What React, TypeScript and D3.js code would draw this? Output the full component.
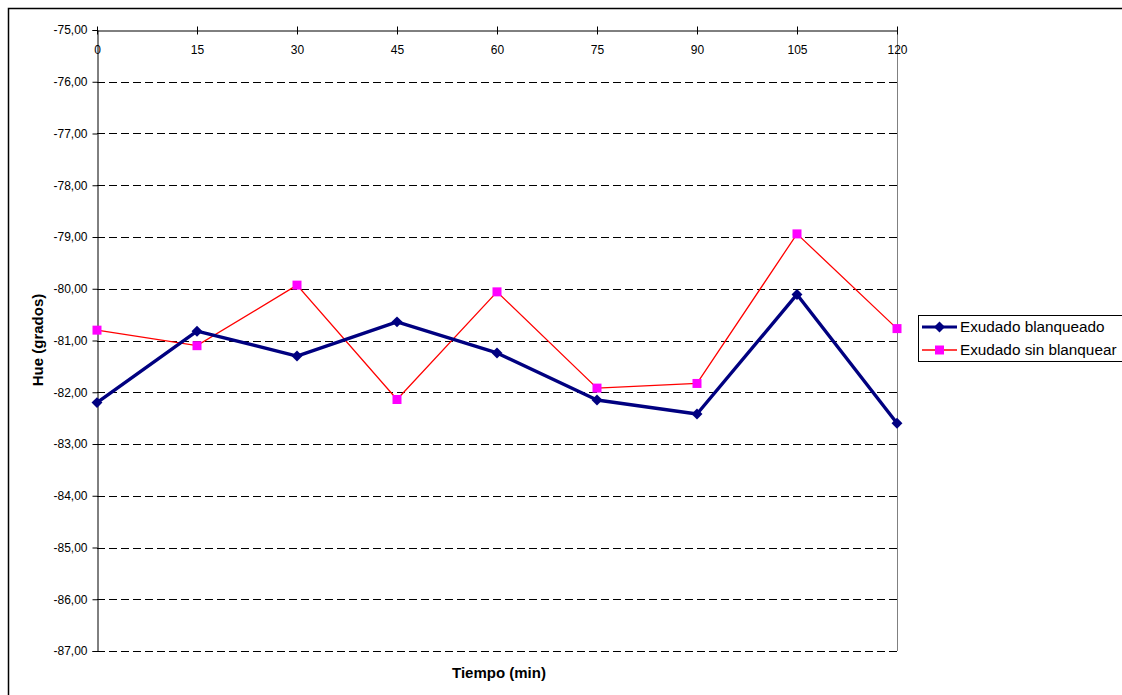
import { useRef, useEffect } from 'react'
import * as d3 from 'd3'

// data
const tiempos = [0, 15, 30, 45, 60, 75, 90, 105, 120]
const blanqueado = [-82.2, -80.82, -81.3, -80.64, -81.24, -82.15, -82.42, -80.11, -82.6]
const sinBlanquear = [-80.8, -81.1, -79.93, -82.14, -80.06, -81.92, -81.83, -78.94, -80.77]
const yTicks = [-75, -76, -77, -78, -79, -80, -81, -82, -83, -84, -85, -86, -87]
const seriesNames = ['Exudado blanqueado', 'Exudado sin blanquear']

export default function App() {
    const ref = useRef<SVGSVGElement>(null)

    useEffect(() => {
        const svg = d3.select(ref.current)
        svg.selectAll('*').remove()

        const W = 1122, H = 695
        const left = 97, right = 897, top = 30, bottom = 651
        const font = 'Arial, "Liberation Sans", sans-serif'

        const x = d3.scaleLinear().domain([0, 120]).range([left, right])
        const y = d3.scaleLinear().domain([-75, -87]).range([top, bottom])

        // outer frame
        svg.append('rect')
            .attr('x', 8.5).attr('y', 8.5)
            .attr('width', W).attr('height', H)
            .attr('fill', 'white')
            .attr('stroke', '#000').attr('stroke-width', 1.5)

        // gridlines (dashed)
        svg.append('g').selectAll('line')
            .data(yTicks.filter(d => d !== -75))
            .enter().append('line')
            .attr('x1', left).attr('x2', right)
            .attr('y1', d => Math.round(y(d)) + 0.5).attr('y2', d => Math.round(y(d)) + 0.5)
            .attr('stroke', '#000').attr('stroke-width', 1)
            .attr('stroke-dasharray', '8,4')

        // right border of plot area
        svg.append('line')
            .attr('x1', right + 0.5).attr('x2', right + 0.5)
            .attr('y1', top).attr('y2', bottom)
            .attr('stroke', '#808080').attr('stroke-width', 1)

        // y axis
        const yAxis = d3.axisLeft(y)
            .tickValues(yTicks)
            .tickSize(5)
            .tickFormat(d => d3.format('.2f')(d as number).replace('.', ',').replace('−', '-'))
        const gy = svg.append('g')
            .attr('transform', `translate(${left + 0.5},0)`)
            .call(yAxis)
        gy.select('.domain').attr('stroke', '#000')
        gy.selectAll('.tick line').attr('stroke', '#000')
        gy.selectAll('.tick text')
            .attr('font-family', font).attr('font-size', 12).attr('fill', '#000')
            .attr('x', -10)

        // x axis along the top (crosses at -75)
        const xAxis = d3.axisBottom(x).tickValues(tiempos).tickSize(0).tickFormat(d => String(d))
        const gx = svg.append('g')
            .attr('transform', `translate(0,${top + 0.5})`)
            .call(xAxis)
        gx.select('.domain').attr('stroke', '#000')
        gx.selectAll('.tick text')
            .attr('font-family', font).attr('font-size', 12).attr('fill', '#000')
            .attr('dy', 0).attr('y', 23)
        gx.selectAll('.tick').append('line')
            .attr('y1', -4).attr('y2', 4).attr('stroke', '#000')

        // series
        const line = d3.line<number>()
            .x((_, i) => x(tiempos[i]))
            .y(d => y(d))

        svg.append('path')
            .datum(sinBlanquear)
            .attr('d', line)
            .attr('fill', 'none').attr('stroke', '#FF0000').attr('stroke-width', 1.3)

        svg.append('path')
            .datum(blanqueado)
            .attr('d', line)
            .attr('fill', 'none').attr('stroke', '#000080').attr('stroke-width', 3.4)
            .attr('stroke-linejoin', 'round')

        const diamond = d3.symbol().type(d3.symbolDiamond2).size(76)
        const square = d3.symbol().type(d3.symbolSquare).size(81)

        svg.append('g').selectAll('path')
            .data(blanqueado)
            .enter().append('path')
            .attr('d', diamond)
            .attr('transform', (d, i) => `translate(${x(tiempos[i])},${y(d)})`)
            .attr('fill', '#000080')

        svg.append('g').selectAll('path')
            .data(sinBlanquear)
            .enter().append('path')
            .attr('d', square)
            .attr('transform', (d, i) => `translate(${x(tiempos[i])},${y(d)})`)
            .attr('fill', '#FF00FF')

        // axis titles
        svg.append('text')
            .attr('x', 499).attr('y', 678)
            .attr('text-anchor', 'middle')
            .attr('font-family', font).attr('font-size', 15).attr('font-weight', 'bold')
            .text('Tiempo (min)')

        svg.append('text')
            .attr('transform', 'translate(43,340) rotate(-90)')
            .attr('text-anchor', 'middle')
            .attr('font-family', font).attr('font-size', 15).attr('font-weight', 'bold')
            .text('Hue (grados)')

        // legend
        const lg = svg.append('g')
        lg.append('rect')
            .attr('x', 918.5).attr('y', 315.5)
            .attr('width', 210).attr('height', 46)
            .attr('fill', 'white').attr('stroke', '#000').attr('stroke-width', 1)

        const rows = [
            { name: seriesNames[0], color: '#000080', w: 3, sym: diamond, fill: '#000080' },
            { name: seriesNames[1], color: '#FF0000', w: 1.3, sym: square, fill: '#FF00FF' },
        ]
        rows.forEach((r, i) => {
            const cy = 327 + i * 23
            lg.append('line')
                .attr('x1', 922).attr('x2', 957)
                .attr('y1', cy).attr('y2', cy)
                .attr('stroke', r.color).attr('stroke-width', r.w)
            lg.append('path')
                .attr('d', r.sym)
                .attr('transform', `translate(939.5,${cy})`)
                .attr('fill', r.fill)
            lg.append('text')
                .attr('x', 960).attr('y', cy + 5)
                .attr('font-family', font).attr('font-size', 15.3)
                .text(r.name)
        })
    }, [])

    return (
        <svg ref={ref} width={1122} height={695}
             style={{ position: 'absolute', left: 0, top: 0 }} />
    )
}
